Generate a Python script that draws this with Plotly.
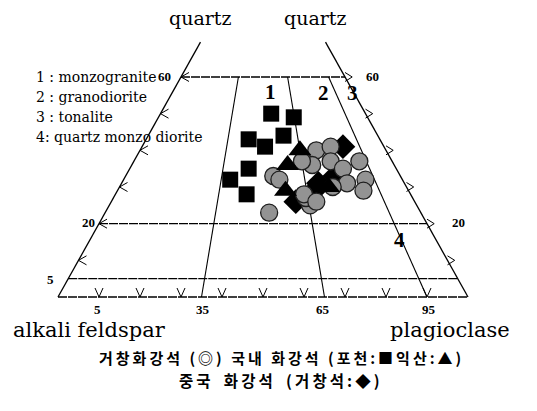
import numpy as np
import plotly.graph_objects as go

# 모드 조성 (%): Q = quartz, P = plagioclase, A = 100 - Q - P
pocheon_q = [50, 49, 44, 43, 41, 35, 32, 28]
pocheon_p = [27, 33, 33, 25, 30, 29, 26, 32]

iksan_q = [40, 36, 29, 30]
iksan_p = [39, 38, 41, 51]

china_q = [41, 26, 31, 29, 33]
china_p = [49, 45, 48, 48, 51]

geochang_q = [40, 41, 33, 32, 23, 37, 32, 29, 36, 37, 35, 31, 30, 25, 27, 37, 28, 26]
geochang_p = [43, 46, 36, 38, 40, 55, 59, 60, 44, 48, 52, 55, 52, 49, 47, 41, 46, 50]

q_lines = [60, 20, 5]
ratio_lines = [35, 65, 90]
side_ticks = [60, 50, 40, 30, 20, 10]
base_ticks = [10, 20, 30, 40, 50, 60, 70, 80, 90]
base_labels = ["5", "35", "65", "95"]
q_top = 69.5

W, H = 537, 411
OFF = 8               # page margin around the plot div
X0, SX = 58, 4.1      # px of A corner, px per %
Y0, SY = 297, 3.667   # px of base, px per % Q


def tern(q, p):
    q = np.asarray(q, float)
    p = np.asarray(p, float)
    return p + q / 2, q


def paper(x, y):
    return (x - OFF) / (W - OFF), 1 - (y - OFF) / (H - OFF)


def segs(pairs):
    xs, ys = [], []
    for (x1, y1), (x2, y2) in pairs:
        xs += [x1, x2, None]
        ys += [y1, y2, None]
    return xs, ys


fig = go.Figure()

# outline
lx, ly = tern([0, q_top], [0, 0])
rx, ry = tern([0, q_top], [100, 100 - q_top])
side = segs([((lx[0], ly[0]), (lx[1], ly[1])), ((rx[0], ry[0]), (rx[1], ry[1]))])
fig.add_trace(go.Scatter(x=side[0], y=side[1], mode="lines",
                         line=dict(color="black", width=1.3), hoverinfo="skip"))

hl = []
for q in [0] + q_lines:
    a, b = tern([q, q], [0, 100 - q])
    hl.append(((a[0], b[0]), (a[1], b[1])))
hx, hy = segs(hl)
fig.add_trace(go.Scatter(x=hx, y=hy, mode="lines",
                         line=dict(color="black", width=1.4, dash="9px,1px"), hoverinfo="skip"))

rl = []
for r in ratio_lines:
    a, b = tern([0, 60], [r, r * 0.4])
    rl.append(((a[0], b[0]), (a[1], b[1])))
rxs, rys = segs(rl)
fig.add_trace(go.Scatter(x=rxs, y=rys, mode="lines",
                         line=dict(color="black", width=1.1), hoverinfo="skip"))

# chevron ticks
dx, dy = 8 / SX, 4.5 / SY
ch = []
for q in side_ticks:
    x, y = q / 2, q
    ch += [((x + dx, y + dy), (x, y)), ((x, y), (x + dx, y - dy))]
    x = 100 - q / 2
    ch += [((x, y + dy), (x + dx * 0.9, y)), ((x + dx * 0.9, y), (x, y - dy))]
for t in base_ticks:
    ch += [((t - dx / 2, 2 * dy), (t, 0)), ((t, 0), (t + dx / 2, 2 * dy))]
cx, cy = segs(ch)
fig.add_trace(go.Scatter(x=cx, y=cy, mode="lines",
                         line=dict(color="black", width=1), hoverinfo="skip"))

# samples
x, y = tern(china_q, china_p)
fig.add_trace(go.Scatter(x=x, y=y, mode="markers", name="중국 화강석",
                         marker=dict(symbol="diamond", size=19, color="black")))
x, y = tern(geochang_q, geochang_p)
fig.add_trace(go.Scatter(x=x, y=y, mode="markers", name="거창화강석",
                         marker=dict(symbol="circle", size=17, color="#939393",
                                     line=dict(color="#1e1e1e", width=1.3))))
x, y = tern(pocheon_q, pocheon_p)
fig.add_trace(go.Scatter(x=x, y=y, mode="markers", name="포천",
                         marker=dict(symbol="square", size=16, color="black")))
x, y = tern(iksan_q, iksan_p)
fig.add_trace(go.Scatter(x=x, y=y, mode="markers", name="익산",
                         marker=dict(symbol="triangle-up", size=20, color="black")))

serif = "DejaVu Serif"
ann = []


def text(s, px, py, size, anchor="center", bold=False, family=serif):
    ax, ay = paper(px, py)
    ann.append(dict(text=f"<b>{s}</b>" if bold else s, x=ax, y=ay, xref="paper", yref="paper",
                    xanchor=anchor, yanchor="middle", showarrow=False,
                    font=dict(family=family, size=size, color="black")))


text("quartz", 200, 18, 19)
text("quartz", 315, 18, 19)
text("alkali feldspar", 89, 330, 21)
text("plagioclase", 450, 330, 21)

legend = ["1 : monzogranite", "2 : granodiorite", "3 : tonalite", "4: quartz monzo diorite"]
for i, s in enumerate(legend):
    text(s, 34, 77 + i * 20, 14, anchor="left")

num = "Liberation Serif"
text("60", 164, 77, 13, bold=True, family=num)
text("60", 372, 77, 13, bold=True, family=num)
text("20", 88, 222, 13, bold=True, family=num)
text("20", 458, 222, 13, bold=True, family=num)
text("5", 50, 279, 13, bold=True, family=num)
for s, px in zip(base_labels, [97, 203, 323, 429]):
    text(s, px, 309, 13, bold=True, family=num)

for s, px, py in [("1", 270, 92), ("2", 323, 93), ("3", 352, 93), ("4", 399, 240)]:
    text(s, px, py, 21, bold=True, family=num)

kr = "Noto Sans CJK KR"
sp = "\u2009"
text(sp.join("거창화강석 (◎) 국내 화강석 (포천:■익산:▲)"), 280, 357, 15, bold=True, family=kr)
text(sp.join("중국 화강석 (거창석:◆)").replace(" ", "  "), 279, 380, 15.5, bold=True, family=kr)

fig.update_layout(
    width=W - OFF, height=H - OFF,
    margin=dict(l=0, r=0, t=0, b=0),
    paper_bgcolor="white", plot_bgcolor="white",
    showlegend=False,
    annotations=ann,
    xaxis=dict(range=[(OFF - X0) / SX, (W - X0) / SX], visible=False, fixedrange=True),
    yaxis=dict(range=[-(H - Y0) / SY, (Y0 - OFF) / SY], visible=False, fixedrange=True),
)

fig.write_html("out.html")
